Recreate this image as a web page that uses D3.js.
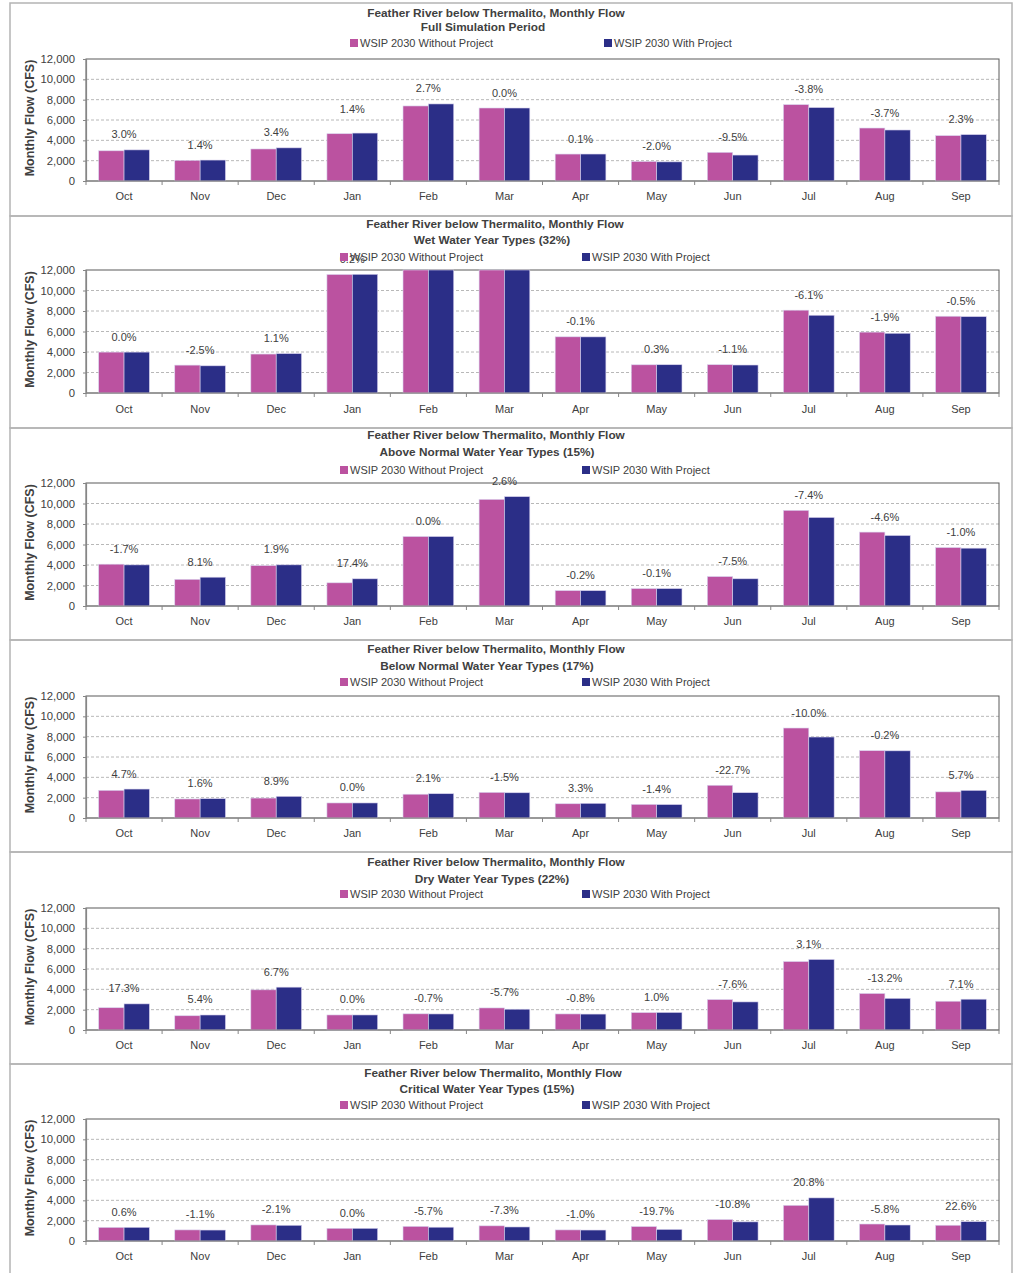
<!DOCTYPE html>
<html>
<head>
<meta charset="utf-8">
<script src="https://cdn.jsdelivr.net/npm/d3@7"></script>
<style>
  body { margin: 0; background: #fff; }
  svg { display: block; }
  text { font-family: "Liberation Sans", Arial, sans-serif; fill: #404040; }
</style>
</head>
<body>
<svg id="chart" width="1017" height="1273"></svg>
<script>
// Months of the water year and the shared axis ticks
const months = ["Oct", "Nov", "Dec", "Jan", "Feb", "Mar", "Apr", "May", "Jun", "Jul", "Aug", "Sep"];
const yTicks = [0, 2000, 4000, 6000, 8000, 10000, 12000];
const seriesNames = ["WSIP 2030 Without Project", "WSIP 2030 With Project"];
const titleLine1 = "Feather River below Thermalito, Monthly Flow";
const periodTitles = [
  "Full Simulation Period",
  "Wet Water Year Types (32%)",
  "Above Normal Water Year Types (15%)",
  "Below Normal Water Year Types (17%)",
  "Dry Water Year Types (22%)",
  "Critical Water Year Types (15%)"
];

// Average monthly flow (cfs) and percent change, by period
const fullWithout = [2970, 2030, 3150, 4650, 7380, 7180, 2650, 1920, 2820, 7510, 5210, 4460];
const fullWith    = [3060, 2060, 3260, 4715, 7580, 7180, 2653, 1882, 2552, 7225, 5017, 4563];
const fullPct     = ["3.0%", "1.4%", "3.4%", "1.4%", "2.7%", "0.0%", "0.1%", "-2.0%", "-9.5%", "-3.8%", "-3.7%", "2.3%"];

const wetWithout = [3990, 2720, 3800, 11560, 14800, 13900, 5480, 2750, 2760, 8080, 5940, 7490];
const wetWith    = [3990, 2652, 3842, 11583, 14900, 13950, 5475, 2758, 2730, 7587, 5827, 7453];
const wetPct     = ["0.0%", "-2.5%", "1.1%", "0.2%", null, null, "-0.1%", "0.3%", "-1.1%", "-6.1%", "-1.9%", "-0.5%"];

const anWithout = [4080, 2600, 3940, 2260, 6780, 10400, 1500, 1700, 2870, 9330, 7210, 5700];
const anWith    = [4011, 2811, 4015, 2653, 6780, 10670, 1497, 1698, 2655, 8640, 6878, 5643];
const anPct     = ["-1.7%", "8.1%", "1.9%", "17.4%", "0.0%", "2.6%", "-0.2%", "-0.1%", "-7.5%", "-7.4%", "-4.6%", "-1.0%"];

const bnWithout = [2720, 1870, 1960, 1480, 2340, 2520, 1400, 1340, 3220, 8850, 6620, 2570];
const bnWith    = [2848, 1900, 2134, 1480, 2389, 2482, 1446, 1321, 2489, 7965, 6607, 2716];
const bnPct     = ["4.7%", "1.6%", "8.9%", "0.0%", "2.1%", "-1.5%", "3.3%", "-1.4%", "-22.7%", "-10.0%", "-0.2%", "5.7%"];

const dryWithout = [2190, 1400, 3950, 1480, 1590, 2170, 1580, 1710, 2990, 6730, 3590, 2830];
const dryWith    = [2569, 1476, 4215, 1480, 1579, 2046, 1567, 1727, 2763, 6939, 3116, 3031];
const dryPct     = ["17.3%", "5.4%", "6.7%", "0.0%", "-0.7%", "-5.7%", "-0.8%", "1.0%", "-7.6%", "3.1%", "-13.2%", "7.1%"];

const critWithout = [1340, 1090, 1580, 1250, 1440, 1490, 1090, 1420, 2110, 3510, 1670, 1550];
const critWith    = [1348, 1078, 1547, 1250, 1358, 1381, 1079, 1140, 1882, 4240, 1573, 1900];
const critPct     = ["0.6%", "-1.1%", "-2.1%", "0.0%", "-5.7%", "-7.3%", "-1.0%", "-19.7%", "-10.8%", "20.8%", "-5.8%", "22.6%"];

const panelData = [
  [fullWithout, fullWith, fullPct],
  [wetWithout, wetWith, wetPct],
  [anWithout, anWith, anPct],
  [bnWithout, bnWith, bnPct],
  [dryWithout, dryWith, dryPct],
  [critWithout, critWith, critPct]
];

// Page layout of each chart block
const layout = [
  { top: 3,    bottom: 216,  t1: 13,   t2: 27,   leg: 43,   pTop: 59,   pBot: 181,  cat: 196,  t1x: 496, t2x: 483, lx1: 350, lx2: 604 },
  { top: 216,  bottom: 428,  t1: 224,  t2: 240,  leg: 257,  pTop: 270,  pBot: 393,  cat: 409,  t1x: 495, t2x: 492, lx1: 340, lx2: 582 },
  { top: 428,  bottom: 640,  t1: 435,  t2: 452,  leg: 470,  pTop: 483,  pBot: 606,  cat: 621,  t1x: 496, t2x: 487, lx1: 340, lx2: 582 },
  { top: 640,  bottom: 852,  t1: 649,  t2: 666,  leg: 682,  pTop: 696,  pBot: 818,  cat: 833,  t1x: 496, t2x: 487, lx1: 340, lx2: 582 },
  { top: 852,  bottom: 1064, t1: 862,  t2: 879,  leg: 894,  pTop: 908,  pBot: 1030, cat: 1045, t1x: 496, t2x: 492, lx1: 340, lx2: 582 },
  { top: 1064, bottom: 1290, t1: 1073, t2: 1089, leg: 1105, pTop: 1119, pBot: 1241, cat: 1256, t1x: 493, t2x: 487, lx1: 340, lx2: 582 }
];
const labelLift = { "0-Jan": 9 };

const colors = ["#BB52A0", "#2B2E87"];
const plotLeft = 86, plotRight = 999, boxLeft = 10, boxRight = 1012;

const svg = d3.select("#chart");

const x0 = d3.scaleBand().domain(months).range([plotLeft, plotRight]).paddingInner(0).paddingOuter(0);
const x1 = d3.scaleBand().domain([0, 1]).range([0, x0.bandwidth()]).paddingInner(0).paddingOuter(0.5);

panelData.forEach(([without, withP, pct], i) => {
  const L = layout[i];
  const g = svg.append("g");
  const y = d3.scaleLinear().domain([0, 12000]).range([L.pBot, L.pTop]).clamp(true);

  // block frame
  g.append("rect")
    .attr("x", boxLeft).attr("y", L.top)
    .attr("width", boxRight - boxLeft).attr("height", L.bottom - L.top)
    .attr("fill", "none").attr("stroke", "#b4b4b4").attr("stroke-width", 1.5);

  // titles
  g.append("text").attr("x", L.t1x).attr("y", L.t1 + 4).attr("text-anchor", "middle")
    .style("font-size", "11.8px").style("font-weight", "bold").text(titleLine1);
  g.append("text").attr("x", L.t2x).attr("y", L.t2 + 4).attr("text-anchor", "middle")
    .style("font-size", "11.8px").style("font-weight", "bold").text(periodTitles[i]);

  // grid lines
  g.append("g").selectAll("line").data(yTicks.filter(t => t > 0 && t < 12000)).join("line")
    .attr("x1", plotLeft).attr("x2", plotRight)
    .attr("y1", d => y(d)).attr("y2", d => y(d))
    .attr("stroke", "#a6a6a6").attr("stroke-width", 0.8).attr("stroke-dasharray", "3,2");

  // plot frame
  g.append("rect").attr("x", plotLeft).attr("y", L.pTop)
    .attr("width", plotRight - plotLeft).attr("height", L.pBot - L.pTop)
    .attr("fill", "none").attr("stroke", "#5a5a5a").attr("stroke-width", 1);

  // bars
  const rows = months.map((m, k) => ({ m, k, v: [without[k], withP[k]], p: pct[k] }));
  const grp = g.append("g").selectAll("g").data(rows).join("g")
    .attr("transform", d => `translate(${x0(d.m)},0)`);
  grp.selectAll("rect").data(d => d.v.map((v, s) => ({ v, s }))).join("rect")
    .attr("x", d => x1(d.s)).attr("width", x1.bandwidth())
    .attr("y", d => y(d.v)).attr("height", d => L.pBot - y(d.v))
    .attr("fill", d => colors[d.s])
    .attr("stroke", "#d9d3ee").attr("stroke-width", 0.6);

  // percent change labels above each month
  g.append("g").selectAll("text").data(rows.filter(d => d.p !== null)).join("text")
    .attr("x", d => x0(d.m) + x0.bandwidth() / 2)
    .attr("y", d => y(Math.max(d.v[0], d.v[1])) - 11.5 - (labelLift[i + "-" + d.m] || 0))
    .attr("text-anchor", "middle").style("font-size", "11px")
    .text(d => d.p);

  // y axis
  const ya = g.append("g").attr("transform", `translate(${plotLeft},0)`)
    .call(d3.axisLeft(y).tickValues(yTicks).tickFormat(d3.format(",")).tickSize(3).tickPadding(8));
  ya.select(".domain").attr("stroke", "#868686").attr("stroke-width", 1.2);
  ya.selectAll(".tick line").attr("stroke", "#868686");
  ya.selectAll(".tick text").style("font-size", "11.3px").style("font-family", "'Liberation Sans', Arial, sans-serif").attr("fill", "#404040");

  // x axis baseline with ticks at month boundaries
  g.append("line").attr("x1", plotLeft).attr("x2", plotRight)
    .attr("y1", L.pBot).attr("y2", L.pBot).attr("stroke", "#868686").attr("stroke-width", 1.2);
  g.append("g").selectAll("line").data(months.concat(["end"])).join("line")
    .attr("x1", d => d === "end" ? plotRight : x0(d)).attr("x2", d => d === "end" ? plotRight : x0(d))
    .attr("y1", L.pBot).attr("y2", L.pBot + 4).attr("stroke", "#868686");
  g.append("g").selectAll("text").data(months).join("text")
    .attr("x", d => x0(d) + x0.bandwidth() / 2).attr("y", L.cat + 4)
    .attr("text-anchor", "middle").style("font-size", "11px").text(d => d);

  // y axis title
  g.append("text")
    .attr("transform", `translate(${34},${(L.pTop + L.pBot) / 2 - 2}) rotate(-90)`)
    .attr("text-anchor", "middle").style("font-size", "12.5px").style("font-weight", "bold")
    .text("Monthly Flow (CFS)");

  // legend
  [L.lx1, L.lx2].forEach((lx, s) => {
    g.append("rect").attr("x", lx).attr("y", L.leg - 4).attr("width", 8).attr("height", 8).attr("fill", colors[s]);
    g.append("text").attr("x", lx + 10).attr("y", L.leg + 4).style("font-size", "11px").text(seriesNames[s]);
  });
});
</script>
</body>
</html>
